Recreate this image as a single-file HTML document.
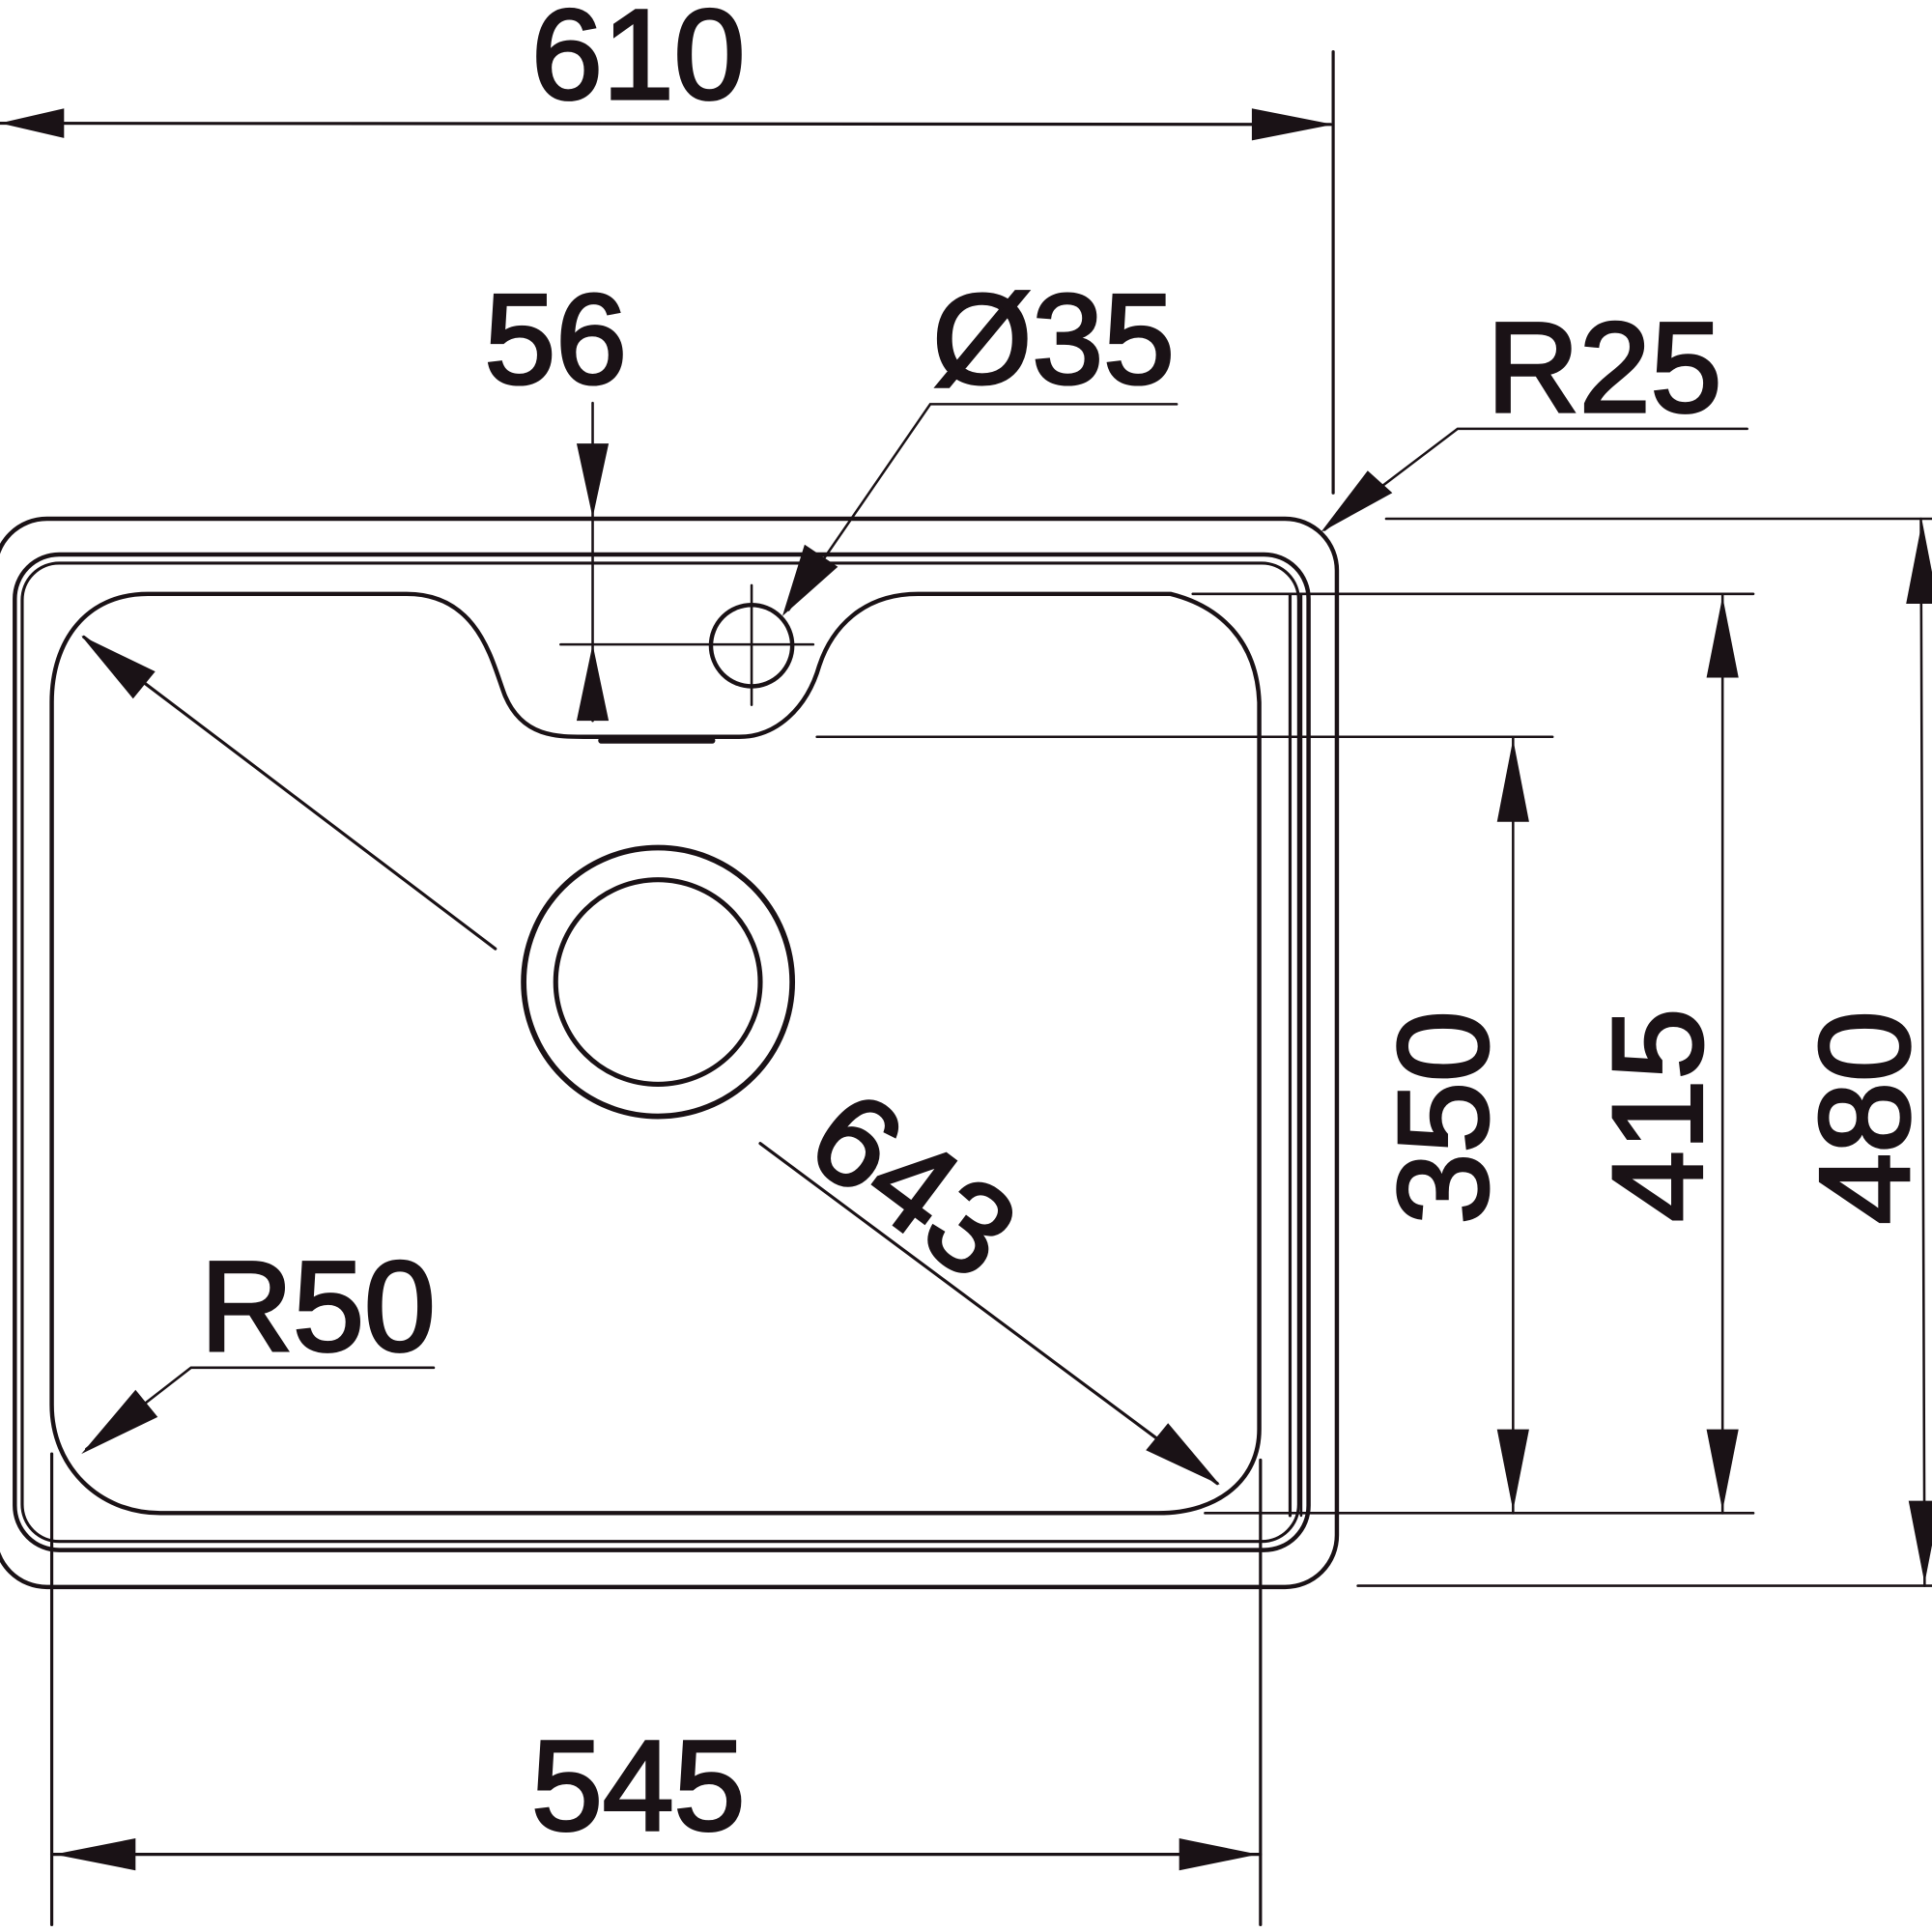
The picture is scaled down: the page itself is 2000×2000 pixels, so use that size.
<!DOCTYPE html>
<html><head><meta charset="utf-8"><style>
html,body{margin:0;padding:0;background:#fff}
svg{display:block}
text{font-family:"Liberation Sans",sans-serif;fill:#1a1216;stroke:#1a1216;stroke-width:2.5;font-size:104px}
</style></head><body>
<svg width="2000" height="2000" viewBox="0 0 1568 1568" xmlns="http://www.w3.org/2000/svg">
<g fill="none" stroke="#1a1216" stroke-width="3.5" stroke-linecap="round">
<rect x="-4" y="421" width="1089" height="867" rx="42"/>
<rect x="12" y="450" width="1050" height="808" rx="36"/>
<rect x="18" y="457" width="1036" height="794" rx="30" stroke-width="2.5"/>
<line x1="1047" y1="483" x2="1047" y2="1230" stroke-width="2.5"/>
<line x1="1056" y1="483" x2="1056" y2="1230" stroke-width="2"/>
<line x1="1024" y1="598" x2="1080" y2="598" stroke-width="2"/>
<path d="M120 482 L330 482 C390 482 400 540 410 565 C425 600 455 598 480 598 L600 598 C630 598 655 575 665 540 C675 510 700 482 745 482 L950 482 C990 492 1020 520 1022 570 L1022 1160 C1022 1200 990 1228 940 1228 L130 1228 C80 1228 42 1190 42 1140 L42 570 C42 520 70 482 120 482 Z"/>
<line x1="488" y1="601" x2="578" y2="601" stroke-width="5"/>
<circle cx="534" cy="797" r="109" stroke-width="4.5"/>
<circle cx="534" cy="797" r="83" stroke-width="4"/>
<circle cx="610" cy="524" r="33"/>
<line x1="455" y1="523" x2="660" y2="523" stroke-width="2"/>
<line x1="610" y1="475" x2="610" y2="572" stroke-width="2"/>
<line x1="0" y1="100" x2="1080" y2="101" stroke-width="2.5"/>
<line x1="1082" y1="42" x2="1082" y2="400" stroke-width="2.5"/>
<line x1="481" y1="327" x2="481" y2="585" stroke-width="2"/>
<polyline points="955,328 755,328 640,495" stroke-width="2"/>
<polyline points="1418,348 1183,348 1075,430" stroke-width="2"/>
<line x1="1125" y1="421" x2="1568" y2="421" stroke-width="2"/>
<line x1="968" y1="482" x2="1423" y2="482" stroke-width="2"/>
<line x1="663" y1="598" x2="1260" y2="598" stroke-width="2"/>
<line x1="978" y1="1228" x2="1423" y2="1228" stroke-width="2"/>
<line x1="1102" y1="1287" x2="1568" y2="1287" stroke-width="2"/>
<line x1="1228" y1="598" x2="1228" y2="1228" stroke-width="2"/>
<line x1="1398" y1="482" x2="1398" y2="1228" stroke-width="2"/>
<line x1="1559" y1="421" x2="1562" y2="1287" stroke-width="2"/>
<line x1="42" y1="1180" x2="42" y2="1562" stroke-width="2.5"/>
<line x1="1023" y1="1185" x2="1023" y2="1562" stroke-width="2.5"/>
<line x1="42" y1="1505" x2="1023" y2="1505" stroke-width="2.5"/>
<line x1="68" y1="517" x2="402" y2="770" stroke-width="2.5"/>
<line x1="617" y1="928" x2="988" y2="1204" stroke-width="2.5"/>
<polyline points="352,1110 155,1110 70,1176" stroke-width="2"/>
</g>
<g fill="#1a1216">
<polygon points="0,100 52,88 52,112"/>
<polygon points="1082,101 1016,88 1016,114"/>
<polygon points="481,420 468,360 494,360"/>
<polygon points="481,523 468,585 494,585"/>
<polygon points="635,500 653,442 680,460"/>
<polygon points="1072,432 1110,382 1130,400"/>
<polygon points="1228,600 1215,667 1241,667"/>
<polygon points="1228,1226 1215,1160 1241,1160"/>
<polygon points="1398,484 1385,550 1411,550"/>
<polygon points="1398,1226 1385,1160 1411,1160"/>
<polygon points="1560,423 1547,490 1573,490"/>
<polygon points="1562,1285 1549,1218 1575,1218"/>
<polygon points="44,1505 110,1492 110,1518"/>
<polygon points="1021,1505 957,1492 957,1518"/>
<polygon points="66,516 126,545 108,567"/>
<polygon points="990,1205 930,1177 948,1155"/>
<polygon points="66,1180 110,1128 128,1150"/>
<text x="518" y="80" text-anchor="middle">610</text>
<text x="451" y="311" text-anchor="middle">56</text>
<text x="855" y="311" text-anchor="middle">Ø35</text>
<text x="1302" y="334" text-anchor="middle">R25</text>
<text x="258" y="1096" text-anchor="middle">R50</text>
<text x="518" y="1485" text-anchor="middle">545</text>
<text transform="translate(1207,907) rotate(-90)" text-anchor="middle">350</text>
<text transform="translate(1381,905) rotate(-90)" text-anchor="middle">415</text>
<text transform="translate(1549,907) rotate(-90)" text-anchor="middle">480</text>
<text transform="translate(720,990) rotate(36.8)" text-anchor="middle">643</text>
</g>
</svg>
</body></html>
